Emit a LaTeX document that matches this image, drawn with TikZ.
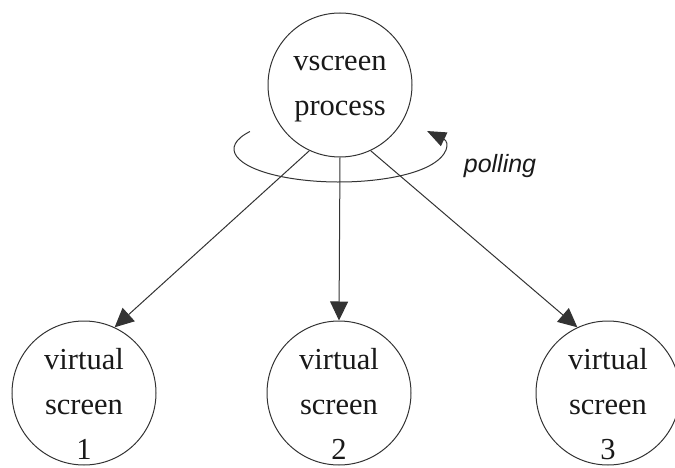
\documentclass[tikz,border=0pt]{standalone}
\usepackage{fontspec}
\setmainfont{Liberation Serif}
\newfontfamily\pollfont{Liberation Sans}
\usetikzlibrary{arrows.meta}
\begin{document}
\begin{tikzpicture}[x=1pt,y=1pt,
  ln/.style={draw=black!80, line width=1pt},
  tipped/.style={ln, -{Triangle[length=19pt,width=18pt]}},
  bubble/.style={circle, ln, minimum size=144pt, inner sep=0pt},
  bubbletext/.style={align=center, inner sep=0pt, font=\fontsize{30.5}{45}\selectfont, text=black!90}]
\useasboundingbox (0,0) rectangle (675,467);
\node[bubble] (top) at (340,382) {};
\node[bubble] (v1) at (84,74) {};
\node[bubble] (v2) at (339,74) {};
\node[bubble] (v3) at (608,74) {};
\node[bubbletext] (ttop) at ([yshift=-4pt]top.center) {vscreen\\process};
\node[bubbletext] (t1) at ([yshift=-11pt]v1.center) {virtual\\screen\\1};
\node[bubbletext] (t2) at ([yshift=-11pt]v2.center) {virtual\\screen\\2};
\node[bubbletext] (t3) at ([yshift=-11pt]v3.center) {virtual\\screen\\3};
\draw[tipped] (top.-115) -- (v1.65);
\draw[tipped] (top.-90) -- (v2.90);
\draw[tipped] (top.-65) -- (v3.115);
\coordinate (ec) at (339,318);
\draw[ln, -{Triangle[length=19pt,width=15pt]}] (ec) ++(148:105 and 33) arc[start angle=148, end angle=393, x radius=105, y radius=33];
\node[font=\pollfont\itshape\fontsize{25}{30}\selectfont, text=black!90, inner sep=0pt] (poll) at (500,300.5) {polling};
\end{tikzpicture}
\end{document}
